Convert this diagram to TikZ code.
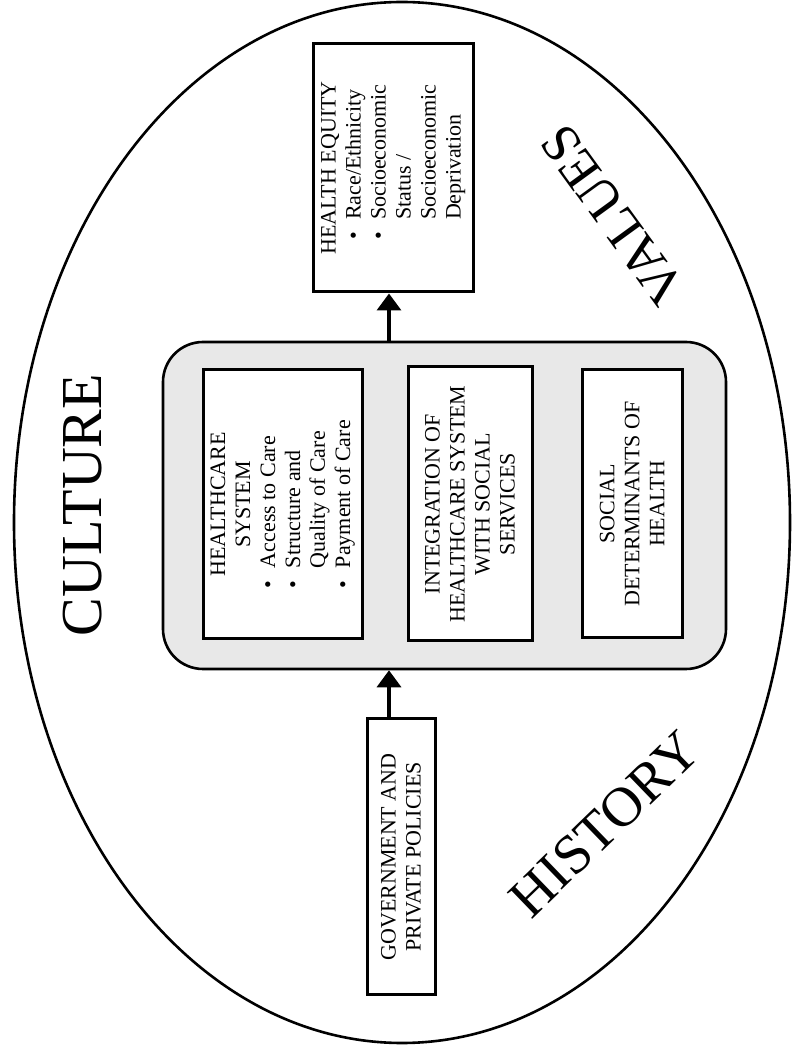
\documentclass[tikz,border=0pt]{standalone}
\usepackage{fontspec}
\setmainfont{Liberation Serif}
\usepackage{xcolor}
\usepackage{tikz}
\usetikzlibrary{arrows.meta}

\begin{document}
\begin{tikzpicture}[x=0.5pt, y=0.5pt,
  stepbox/.style={draw, line width=1.5pt, fill=white, rotate=90, align=center, inner sep=2pt, font=\fontsize{11}{12.5}\selectfont},
  panel/.style={draw, line width=1.3pt, fill=black!9, rounded corners=20pt},
  theme/.style={inner sep=0pt, font=\fontsize{28}{32}\selectfont},
  flow/.style={-{Triangle[length=8.5pt,width=12pt]}, line width=1.8pt}]
\useasboundingbox (0,0) rectangle (793,1046);
\draw[line width=1.3pt] (402,523.5) ellipse [x radius=388, y radius=520.5];
\node[theme, font=\fontsize{29}{32}\selectfont, rotate=90] (culture) at (83,541) {CULTURE};
\node[theme, rotate=44] (history) at (605,222) {HISTORY};
\node[theme, font=\fontsize{27}{30}\selectfont, rotate=126] (values) at (613,831) {VALUES};
\node[panel, minimum width=281.5pt, minimum height=163.5pt] (wrap) at (444.5,540.5) {};
\node[stepbox, minimum width=134.5pt, minimum height=79.5pt] (care) at (282.5,541.5) {\begin{tabular}{@{}l@{\hspace{6.5pt}}l@{}}
\multicolumn{2}{@{}c@{}}{HEALTHCARE}\\
\multicolumn{2}{@{}c@{}}{SYSTEM}\\
\textbullet & Access to Care\\
\textbullet & Structure and\\
 & Quality of Care\\
\textbullet & Payment of Care
\end{tabular}};
\node[stepbox, minimum width=137pt, minimum height=62pt] (link) at (470,542) {INTEGRATION OF\\ HEALTHCARE SYSTEM\\ WITH SOCIAL\\ SERVICES};
\node[stepbox, minimum width=134pt, minimum height=50pt] (social) at (632,542) {SOCIAL\\ DETERMINANTS OF\\ HEALTH};
\node[stepbox, minimum width=124pt, minimum height=80pt] (heq) at (393,878) {\begin{tabular}{@{\hspace{7.5pt}}l@{\hspace{6pt}}l@{}}
\multicolumn{2}{@{}l@{}}{HEALTH EQUITY}\\
\textbullet & Race/Ethnicity\\
\textbullet & Socioeconomic\\
 & Status /\\
 & Socioeconomic\\
 & Deprivation
\end{tabular}};
\node[stepbox, minimum width=138pt, minimum height=34pt] (gov) at (401,189) {GOVERNMENT AND\\ PRIVATE POLICIES};
\coordinate (axis) at (389,0);
\draw[flow] (gov.east -| axis) -- (wrap.south -| axis);
\draw[flow] (wrap.north -| axis) -- (heq.west -| axis);
\end{tikzpicture}
\end{document}
